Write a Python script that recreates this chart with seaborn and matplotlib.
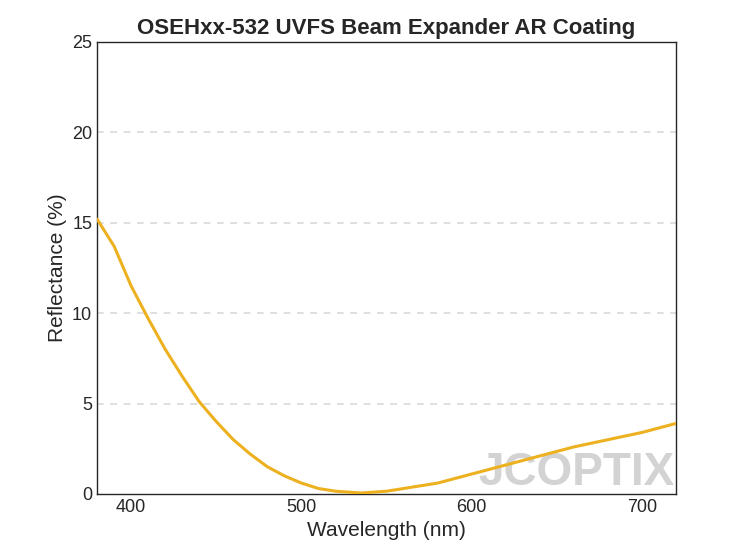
import numpy as np
import pandas as pd
import matplotlib
matplotlib.use("Agg")
import matplotlib.pyplot as plt
import seaborn as sns

wavelength = [380, 390, 400, 410, 420, 430, 440, 450, 460, 470, 480, 490, 500, 510, 520, 535,
              550, 560, 580, 600, 620, 640, 660, 680, 700, 720]
reflectance = [15.2, 13.7, 11.5, 9.7, 8.0, 6.5, 5.1, 4.0, 3.0, 2.2, 1.5, 1.0, 0.6, 0.3, 0.15, 0.05,
               0.15, 0.3, 0.6, 1.1, 1.6, 2.1, 2.6, 3.0, 3.4, 3.9]
df = pd.DataFrame({"wl": wavelength, "r": reflectance})

sns.set_style("white")
plt.rcParams["font.family"] = "Liberation Sans"
fig, ax = plt.subplots(figsize=(7.47, 5.6), dpi=100)
fig.subplots_adjust(left=0.13, right=0.905, top=0.925, bottom=0.118)

for y in [5, 10, 15, 20]:
    ax.axhline(y, color="#d9d9d9", linestyle=(0, (4, 4)), linewidth=1.2, zorder=0)

# watermark
ax.text(604, 0.5, "JCOPTIX", fontsize=33, fontweight="bold", color="#c8c8c8",
        alpha=0.8, zorder=1)

sns.lineplot(data=df, x="wl", y="r", ax=ax, color="#EDB120", linewidth=2.2, zorder=3)

ax.set_xlim(380, 720)
ax.set_ylim(0, 25)
ax.set_xticks([400, 500, 600, 700])
ax.set_yticks([0, 5, 10, 15, 20, 25])
ax.tick_params(labelsize=13, direction="in", length=4, colors="#262626")
for s in ax.spines.values():
    s.set_color("#262626")
    s.set_linewidth(1.0)
ax.set_xlabel("Wavelength (nm)", fontsize=15, color="#262626")
ax.set_ylabel("Reflectance (%)", fontsize=15, color="#262626")
ax.set_title("OSEHxx-532 UVFS Beam Expander AR Coating", fontsize=16, fontweight="bold")

plt.savefig("out.png", dpi=100)
